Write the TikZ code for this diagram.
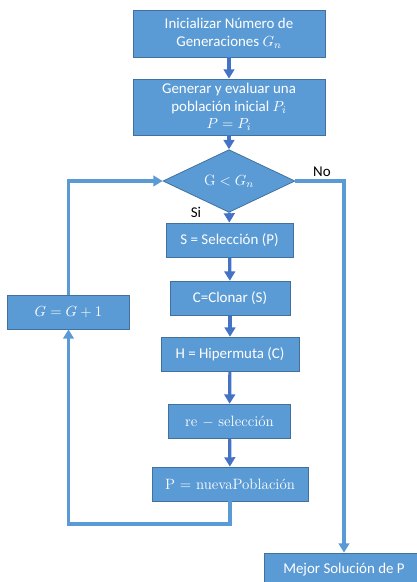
\documentclass[tikz,border=0pt]{standalone}
\usepackage{fontspec}
\setsansfont{Carlito}
\usetikzlibrary{shapes, shapes.geometric, positioning, arrows.meta, calc}
\definecolor{boxfill}{HTML}{5B9BD5}
\definecolor{boxline}{HTML}{41719C}
\definecolor{arrowblue}{HTML}{4472C4}
\newcommand{\boxsize}{\fontsize{11.2}{13}\selectfont}
\begin{document}
\begin{tikzpicture}[x=0.75pt, y=-0.75pt, >={Triangle[width=8pt, length=7pt]}, stepbox/.style={rectangle, draw=boxline, fill=boxfill, text=white, font=\sffamily\boxsize, align=center, inner sep=1pt, line width=0.6pt}, decision/.style={diamond, draw=boxline, fill=boxfill, text=white, font=\boxsize, inner sep=0pt, line width=0.6pt}, flow/.style={->, arrowblue, line width=2.4pt}, loop/.style={->, boxfill, line width=2.4pt}]
\useasboundingbox (0, 0) rectangle (417, 582);
\node[stepbox, minimum width=144pt, minimum height=35.25pt] (init) at (229, 33.5) {Inicializar Número de\\Generaciones $G_n$};
\node[stepbox, minimum width=144pt, minimum height=42pt] (gen) at (229, 107) {Generar y evaluar una\\población inicial $P_i$\\$P = P_i$};
\node[decision, minimum width=99pt, minimum height=33.75pt] (cond) at (229, 181) {$\mathrm{G} < G_n$};
\node[stepbox, minimum width=95.25pt, minimum height=25.5pt] (sel) at (229.5, 240) {S = Selección (P)};
\node[stepbox, minimum width=90pt, minimum height=26pt] (clon) at (230, 298.5) {C=Clonar (S)};
\node[stepbox, minimum width=103.5pt, minimum height=26pt] (hip) at (230, 354.5) {H = Hipermuta (C)};
\node[stepbox, minimum width=91pt, minimum height=26pt, font=\rmfamily\boxsize] (resel) at (229.5, 421.5) {re $-$ selección};
\node[stepbox, minimum width=117pt, minimum height=25.5pt, font=\rmfamily\boxsize] (newp) at (230, 484) {P $=$ nuevaPoblación};
\node[stepbox, minimum width=91pt, minimum height=25.5pt] (incr) at (68.5, 312) {$G = G + 1$};
\node[stepbox, minimum width=120pt, minimum height=25.5pt] (best) at (344, 570) {Mejor Solución de P};
\draw[flow] (init) -- (gen); \draw[flow] (gen) -- (cond); \draw[flow] (cond) -- (sel);
\draw[flow] (sel) -- (clon); \draw[flow] (clon) -- (hip); \draw[flow] (hip) -- (resel); \draw[flow] (resel) -- (newp);
\coordinate (back) at (68.5, 524);
\draw[loop] (newp.south) |- (back) -- (incr.south);
\draw[loop] (incr.north) |- (cond.west);
\draw[loop] (cond.east) -| (best.north);
\node[font=\sffamily\boxsize] (no) at (322, 172) {No};
\node[font=\sffamily\boxsize] (si) at (196, 212) {Si};
\end{tikzpicture}
\end{document}
